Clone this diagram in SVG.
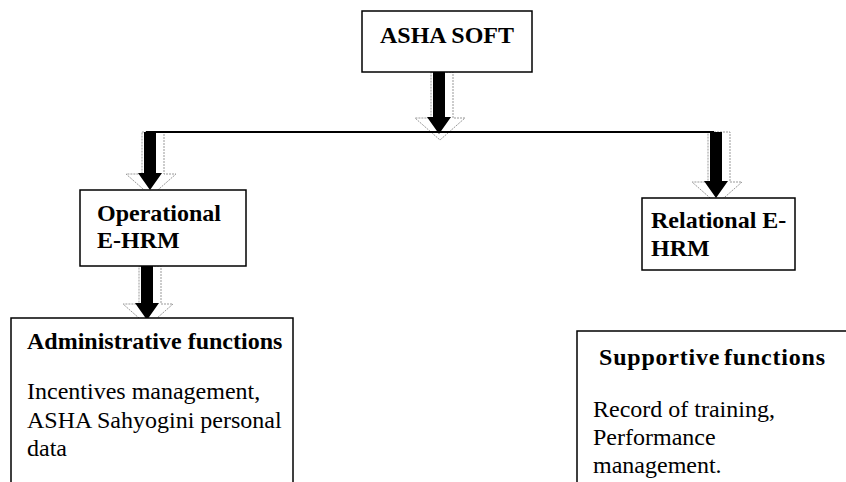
<svg xmlns="http://www.w3.org/2000/svg" width="846" height="482" viewBox="0 0 846 482">
<style>
.box{fill:#fff;stroke:#000;stroke-width:1.5}
.sh{fill:#fff;stroke:#999;stroke-width:1;stroke-dasharray:2,1}
.ar{fill:#000}
text{font-family:'Liberation Serif','Times New Roman','DejaVu Serif',serif;font-size:24px;fill:#000}
.b{font-weight:bold}
.ln{stroke:#000;stroke-width:2;fill:none}
</style>
<rect width="846" height="482" fill="#fff"/>
<g id="connectors">
<path class="sh" d="M431,72 H453 V118 H465 L440,140 L415,118 H431 Z"/>
<path class="sh" d="M142,132 H164 V174 H176 L151,196 L126,174 H142 Z"/>
<path class="sh" d="M708,132 H730 V182 H742 L717,204 L692,182 H708 Z"/>
<path class="sh" d="M139,266 H161 V304 H173 L148,326 L123,304 H139 Z"/>
<line class="ln" x1="146" y1="132" x2="714" y2="132"/>
<path class="ar" d="M433,72 H445 V117 H451 L439,134 L427,117 H433 Z"/>
<path class="ar" d="M144,132 H156 V173 H162 L150,190 L138,173 H144 Z"/>
<path class="ar" d="M710,132 H722 V181 H728 L716,198 L704,181 H710 Z"/>
<path class="ar" d="M141,266 H153 V303 H159 L147,320 L135,303 H141 Z"/>
</g>
<g id="asha">
<rect class="box" x="362" y="11" width="170" height="61"/>
<text class="b" x="447" y="43" text-anchor="middle">ASHA SOFT</text>
</g>
<g id="operational">
<rect class="box" x="80" y="190" width="166" height="76"/>
<text class="b" x="97" y="221">Operational</text>
<text class="b" x="97" y="248">E-HRM</text>
</g>
<g id="relational">
<rect class="box" x="642" y="198" width="153" height="72"/>
<text class="b" x="651" y="228">Relational E-</text>
<text class="b" x="651" y="256">HRM</text>
</g>
<g id="administrative">
<rect class="box" x="11" y="318" width="282" height="172"/>
<text class="b" x="27" y="349">Administrative functions</text>
<text x="27" y="399">Incentives management,</text>
<text x="27" y="428">ASHA Sahyogini personal</text>
<text x="27" y="456">data</text>
</g>
<g id="supportive">
<rect class="box" x="577" y="331" width="280" height="160"/>
<text class="b" x="599" y="365" textLength="226" lengthAdjust="spacing" word-spacing="-3">Supportive functions</text>
<text x="593" y="417">Record of training,</text>
<text x="593" y="445">Performance</text>
<text x="593" y="473">management.</text>
</g>
</svg>
